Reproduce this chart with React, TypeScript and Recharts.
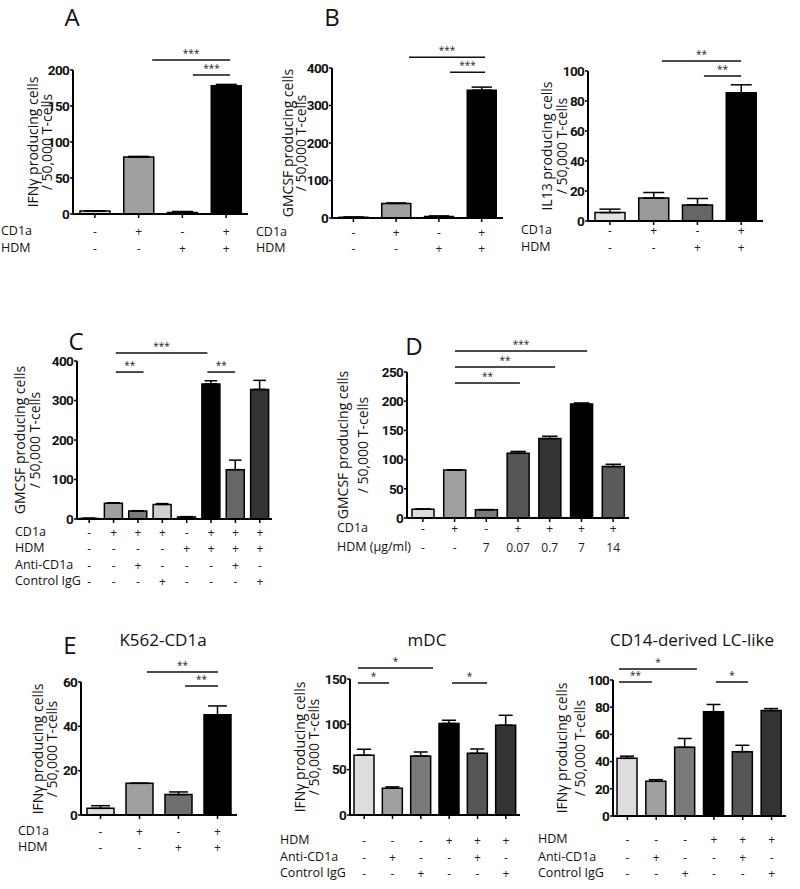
import React from 'react'
import { BarChart, Bar, XAxis, YAxis, ErrorBar, Cell, ReferenceLine } from 'recharts'

// ---------- data ----------
const plusMinus4CD1a = ['-', '+', '-', '+']
const plusMinus4HDM = ['-', '-', '+', '+']

const aValues = [4, 79, 2, 178]
const aErrors = [0.5, 1, 1.5, 2]
const aSig = [
  { from: 1.31, to: 3.09, y: 214, stars: '***' },
  { from: 2.24, to: 3.09, y: 193, stars: '***' },
]

const bValues = [2, 39, 4, 341]
const bErrors = [0.5, 1, 1.5, 8]
const bSig = [
  { from: 1.3, to: 3.08, y: 429, stars: '***' },
  { from: 2.26, to: 3.08, y: 389, stars: '***' },
]

const il13Values = [5.6, 15.3, 10.7, 85.5]
const il13Errors = [2.3, 3.7, 4.3, 5.3]
const il13Sig = [
  { from: 1.19, to: 3.0, y: 106.7, stars: '**' },
  { from: 2.15, to: 3.0, y: 96.7, stars: '**' },
]

const cValues = [1.5, 40, 20, 37, 5, 342, 125, 328]
const cErrors = [0.5, 1, 1, 2, 1, 8, 24, 23]
const cCD1a = ['-', '+', '+', '+', '-', '+', '+', '+']
const cHDM = ['-', '-', '-', '-', '+', '+', '+', '+']
const cAnti = ['-', '-', '+', '-', '-', '-', '+', '-']
const cIgG = ['-', '-', '-', '+', '-', '-', '-', '+']
const cSig = [
  { from: 1.09, to: 4.85, y: 420, stars: '***' },
  { from: 1.09, to: 2.23, y: 372, stars: '**' },
  { from: 4.85, to: 5.99, y: 372, stars: '**' },
]

const dValues = [15, 82, 14, 111, 136, 195, 88]
const dErrors = [0.5, 0.5, 0.5, 3, 4, 2, 4]
const dCD1a = ['-', '+', '-', '+', '+', '+', '+']
const dHDM = ['-', '-', '7', '0.07', '0.7', '7', '14']
const dSig = [
  { from: 1.01, to: 5.18, y: 286, stars: '***' },
  { from: 1.01, to: 4.17, y: 258.6, stars: '**' },
  { from: 1.01, to: 3.06, y: 231, stars: '**' },
]

const k562Values = [3, 14.3, 9.2, 45.2]
const k562Errors = [1.2, 0, 1.2, 4]
const k562Sig = [
  { from: 1.19, to: 3.01, y: 64.5, stars: '**' },
  { from: 2.17, to: 3.01, y: 58.2, stars: '**' },
]

const dcHDM = ['-', '-', '-', '+', '+', '+']
const dcAnti = ['-', '+', '-', '-', '+', '-']
const dcIgG = ['-', '-', '+', '-', '-', '+']

const mdcValues = [66, 29.5, 65, 101, 68, 99]
const mdcErrors = [6.5, 1.5, 4.5, 3.5, 4.8, 11]
const mdcSig = [
  { from: -0.22, to: 2.43, y: 162, stars: '*' },
  { from: -0.22, to: 0.88, y: 145.5, stars: '*' },
  { from: 3.1, to: 4.34, y: 145.5, stars: '*' },
]

const lcValues = [42.4, 25.5, 50.5, 76.7, 47.3, 77.5]
const lcErrors = [1.6, 1.2, 6.5, 5.3, 4.7, 1.5]
const lcSig = [
  { from: -0.29, to: 2.41, y: 108, stars: '*' },
  { from: -0.29, to: 0.85, y: 98.5, stars: '**' },
  { from: 3.07, to: 4.18, y: 98.5, stars: '*' },
]

// ---------- styles ----------
const TEXT_FONT = "'Open Sans', 'Noto Sans', sans-serif"
const TICK_FONT = "Roboto, 'Noto Sans', sans-serif"

const grays4 = ['#dcdcdc', '#a0a0a0', '#5a5a5a', '#000000']
const il13Colors = ['#e0e0e0', '#999999', '#666666', '#000000']
const cColors = ['#dcdcdc', '#a0a0a0', '#7a7a7a', '#cfcfcf', '#555555', '#000000', '#666666', '#333333']
const dColors = ['#dcdcdc', '#a0a0a0', '#7a7a7a', '#555555', '#333333', '#000000', '#5a5a5a']
const k562Colors = ['#dcdcdc', '#a0a0a0', '#6e6e6e', '#000000']
const dcColors = ['#dddddd', '#a0a0a0', '#7a7a7a', '#000000', '#555555', '#333333']

type Sig = { from: number; to: number; y: number; stars: string }

interface PanelProps {
  left: number
  top: number
  width: number
  height: number
  values: number[]
  errors: number[]
  colors: string[]
  ticks: number[]
  rows: string[][]
  rowNames: string[]
  rowOffsets: number[]
  rowNameX: number
  barSize: number
  sig: Sig[]
  yLabel: string[]
  yLabelX: number[]
}

const L = 40
const T = 80
const R = 12
const B = 80

function Panel(p: PanelProps) {
  const data = p.values.map((v, i) => ({ name: String(i), idx: i, value: v, err: [0, p.errors[i]] }))
  const n = data.length
  const axisY = T + p.height
  const max = p.ticks[p.ticks.length - 1]

  const renderTick = (props: any) => {
    const i = Number(props.payload?.value)
    return (
      <g>
        {p.rows.map((r, k) => (
          <text
            key={k}
            x={props.x}
            y={axisY + p.rowOffsets[k]}
            textAnchor="middle"
            dominantBaseline="central"
            fontSize={12}
            fontFamily={TEXT_FONT}
            fill="#222"
          >
            {r[i]}
          </text>
        ))}
      </g>
    )
  }

  const midY = p.top + p.height / 2

  return (
    <>
      <div style={{ position: 'absolute', left: p.left - L, top: p.top - T }}>
        <BarChart
          width={L + p.width + R}
          height={T + p.height + B}
          data={data}
          margin={{ top: T, right: R, bottom: 0, left: 0 }}
          style={{ overflow: 'visible' }}
        >
          <XAxis
            dataKey="name"
            height={B}
            interval={0}
            tick={renderTick}
            tickSize={4}
            tickLine={{ stroke: '#000', strokeWidth: 1.5 }}
            axisLine={{ stroke: '#000', strokeWidth: 2 }}
          />
          <XAxis xAxisId="n" dataKey="idx" type="number" domain={[-0.5, n - 0.5]} allowDataOverflow hide />
          <YAxis
            width={L}
            domain={[0, max]}
            ticks={p.ticks}
            interval={0}
            allowDataOverflow
            tickSize={3}
            tickMargin={1}
            axisLine={{ stroke: '#000', strokeWidth: 2 }}
            tickLine={{ stroke: '#000', strokeWidth: 1.5 }}
            tick={{ fontSize: 13.5, fontWeight: 700, fill: '#111', fontFamily: TICK_FONT, letterSpacing: -0.7 }}
          />
          <Bar dataKey="value" barSize={p.barSize} stroke="#000" strokeWidth={1.5} isAnimationActive={false}>
            {data.map((d, i) => (
              <Cell key={i} fill={p.colors[i]} />
            ))}
            <ErrorBar
              dataKey="err"
              direction="y"
              width={p.barSize * 0.35}
              stroke="#000"
              strokeWidth={1.5}
              isAnimationActive={false}
            />
          </Bar>
          {p.sig.map((s, k) => (
            <ReferenceLine
              key={k}
              xAxisId="n"
              segment={[
                { x: s.from, y: s.y },
                { x: s.to, y: s.y },
              ]}
              stroke="#111"
              strokeWidth={1.5}
              ifOverflow="visible"
              label={{ value: s.stars, position: 'top', fontSize: 10, fill: '#222', offset: 3, fontFamily: TEXT_FONT }}
            />
          ))}
        </BarChart>
      </div>

      {p.rowNames.map((name, k) => (
        <div
          key={name}
          style={{
            position: 'absolute',
            left: p.rowNameX,
            top: p.top + p.height + p.rowOffsets[k],
            transform: 'translateY(-50%)',
            fontSize: 12.5,
            lineHeight: 1,
            whiteSpace: 'nowrap',
            color: '#111',
          }}
        >
          {name}
        </div>
      ))}

      {p.yLabel.map((line, k) => (
        <div
          key={k}
          style={{
            position: 'absolute',
            left: p.yLabelX[k],
            top: midY,
            transform: 'translate(-50%, -50%) rotate(-90deg)',
            fontSize: 14,
            lineHeight: 1,
            whiteSpace: 'nowrap',
            color: '#111',
          }}
        >
          {line}
        </div>
      ))}
    </>
  )
}

function Text({ x, y, size, children }: { x: number; y: number; size: number; children: React.ReactNode }) {
  return (
    <div
      style={{
        position: 'absolute',
        left: x,
        top: y,
        transform: 'translate(-50%, -50%)',
        fontSize: size,
        lineHeight: 0.8,
        whiteSpace: 'nowrap',
        color: '#111',
      }}
    >
      {children}
    </div>
  )
}

const ifnLabel = ['IFNγ producing cells', '/ 50,000 T-cells']
const gmLabel = ['GMCSF producing cells', '/ 50,000 T-cells']
const il13Label = ['IL13 producing cells', '/ 50,000 T-cells']

export default function App() {
  return (
    <div
      style={{
        position: 'absolute',
        left: 0,
        top: 0,
        width: 800,
        height: 889,
        background: '#fff',
        fontFamily: TEXT_FONT,
        overflow: 'hidden',
      }}
    >
      <Text x={72} y={17} size={24}>A</Text>
      <Text x={332} y={17} size={24}>B</Text>
      <Text x={76} y={341} size={24}>C</Text>
      <Text x={414} y={346} size={24}>D</Text>
      <Text x={70} y={645} size={24}>E</Text>
      <Text x={163} y={640} size={17}>K562-CD1a</Text>
      <Text x={427} y={640} size={17}>mDC</Text>
      <Text x={692} y={640} size={17}>CD14-derived LC-like</Text>

      <Panel
        left={73} top={70} width={175} height={144}
        values={aValues} errors={aErrors} colors={grays4}
        ticks={[0, 50, 100, 150, 200]}
        rows={[plusMinus4CD1a, plusMinus4HDM]} rowNames={['CD1a', 'HDM']} rowOffsets={[17, 34]} rowNameX={1}
        barSize={30} sig={aSig} yLabel={ifnLabel} yLabelX={[33, 47]}
      />
      <Panel
        left={332} top={68} width={171} height={150}
        values={bValues} errors={bErrors} colors={grays4}
        ticks={[0, 100, 200, 300, 400]}
        rows={[plusMinus4CD1a, plusMinus4HDM]} rowNames={['CD1a', 'HDM']} rowOffsets={[14, 30]} rowNameX={256}
        barSize={29} sig={bSig} yLabel={gmLabel} yLabelX={[288, 301]}
      />
      <Panel
        left={588} top={71} width={175} height={150}
        values={il13Values} errors={il13Errors} colors={il13Colors}
        ticks={[0, 20, 40, 60, 80, 100]}
        rows={[plusMinus4CD1a, plusMinus4HDM]} rowNames={['CD1a', 'HDM']} rowOffsets={[9, 26]} rowNameX={521}
        barSize={30} sig={il13Sig} yLabel={il13Label} yLabelX={[547, 562]}
      />
      <Panel
        left={77} top={361} width={195} height={158}
        values={cValues} errors={cErrors} colors={cColors}
        ticks={[0, 100, 200, 300, 400]}
        rows={[cCD1a, cHDM, cAnti, cIgG]} rowNames={['CD1a', 'HDM', 'Anti-CD1a', 'Control IgG']}
        rowOffsets={[13, 29, 46, 62]} rowNameX={15}
        barSize={18} sig={cSig} yLabel={gmLabel} yLabelX={[20, 35]}
      />
      <Panel
        left={407} top={372} width={222} height={146}
        values={dValues} errors={dErrors} colors={dColors}
        ticks={[0, 50, 100, 150, 200, 250]}
        rows={[dCD1a, dHDM]} rowNames={['CD1a', 'HDM (µg/ml)']} rowOffsets={[10, 29]} rowNameX={337}
        barSize={22} sig={dSig} yLabel={gmLabel} yLabelX={[343, 363]}
      />
      <Panel
        left={81} top={682} width={156} height={133}
        values={k562Values} errors={k562Errors} colors={k562Colors}
        ticks={[0, 20, 40, 60]}
        rows={[plusMinus4CD1a, plusMinus4HDM]} rowNames={['CD1a', 'HDM']} rowOffsets={[16, 32]} rowNameX={18}
        barSize={27} sig={k562Sig} yLabel={ifnLabel} yLabelX={[38, 52]}
      />
      <Panel
        left={350} top={679} width={170} height={136}
        values={mdcValues} errors={mdcErrors} colors={dcColors}
        ticks={[0, 50, 100, 150]}
        rows={[dcHDM, dcAnti, dcIgG]} rowNames={['HDM', 'Anti-CD1a', 'Control IgG']} rowOffsets={[25, 42, 58]} rowNameX={280}
        barSize={20} sig={mdcSig} yLabel={ifnLabel} yLabelX={[300, 314]}
      />
      <Panel
        left={613} top={680} width={173} height={136}
        values={lcValues} errors={lcErrors} colors={dcColors}
        ticks={[0, 20, 40, 60, 80, 100]}
        rows={[dcHDM, dcAnti, dcIgG]} rowNames={['HDM', 'Anti-CD1a', 'Control IgG']} rowOffsets={[23, 41, 57]} rowNameX={538}
        barSize={20} sig={lcSig} yLabel={ifnLabel} yLabelX={[562, 580]}
      />
    </div>
  )
}
